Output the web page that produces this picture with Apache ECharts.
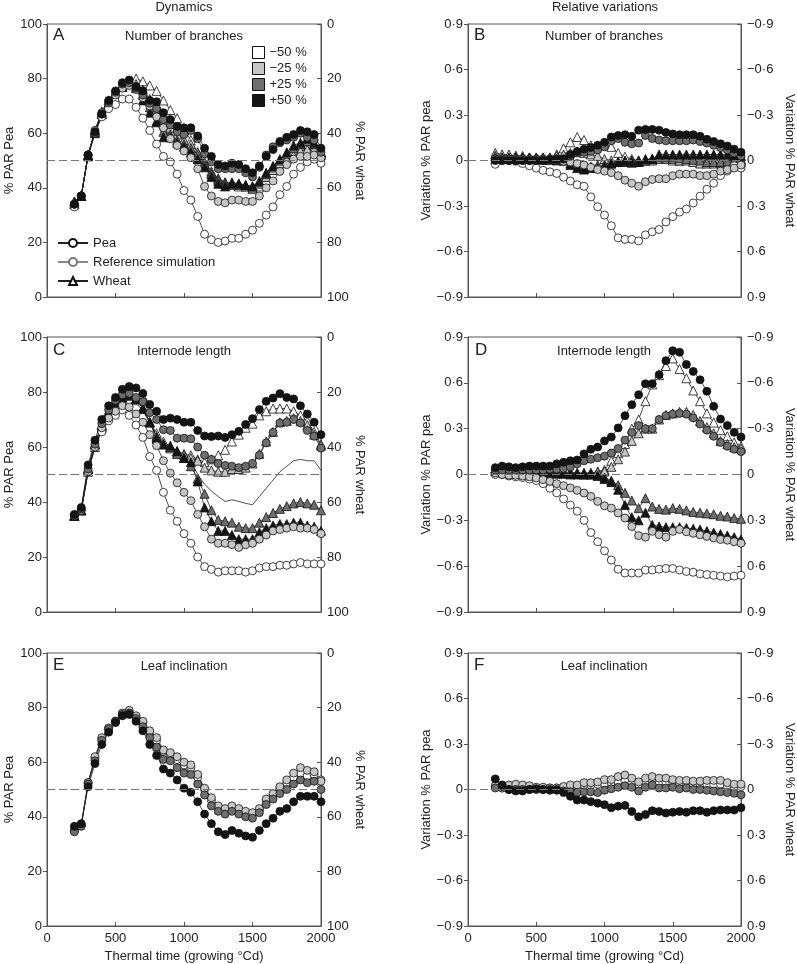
<!DOCTYPE html>
<html><head><meta charset="utf-8">
<script src="https://cdn.jsdelivr.net/npm/echarts@6/dist/echarts.min.js"></script>
<style>html,body{margin:0;padding:0;background:#fff}#c{width:797px;height:964px}</style>
</head><body><div id="c"></div>
<script>
// Thermal time (growing °Cd)
const T = [200,250,300,350,400,450,500,550,600,650,700,750,800,850,900,950,1000,1050,1100,1150,1200,1250,1300,1350,1400,1450,1500,1550,1600,1650,1700,1750,1800,1850,1900,1950,2000];

// Panel A – Number of branches, dynamics (% PAR pea scale)
const aPeaM50 = [33,37,52,60,66,69,70.5,72.5,72.5,69.5,65.5,61,56,51.5,49.5,45,39,35.5,29.5,23,21,20,20.5,21.5,21.5,23,24.5,27,30,33,37.5,40.5,45,47.5,49.5,50.5,49];
const aPeaM25 = [34,37,52,61,67.5,71,74,76.5,77.5,76,73,70,66,62,58,55.5,53.5,51,47,40.5,37,35,34.5,35.5,35.5,35,35,37,40,42.5,46,48.5,50.5,51.5,51.5,52,51];
const aPeaP25 = [34,37,52,60,67,71.5,75,78,78.5,76.5,74,71,69,65,63,60.5,59.5,61,58,52.5,49.5,47,47,47,47,45.5,44,47.5,52,55,56.5,57.5,58.5,60,58.5,57.5,53];
const aPeaP50 = [34,37,52,60.5,67,72,75.5,78.5,79.5,77,75.5,72,71.5,67.5,65,62.5,62,62,59,54.5,51.5,48.5,48,49,48.5,47,45.5,48,51.5,54,57,58.5,59.5,61,60.5,59.5,54.5];
const aWhM50 = [35,37,52,61,68,72,75,77,78.5,80,79,77.5,75.5,72,68.5,65.5,61,57.5,53,49.5,46,43.5,42,41,40.5,40.5,39.5,40.5,44,46.5,49.5,51,53.5,55.5,56,55,52.5];
const aWhM25 = [35,37,52,61,67.5,72,75,77.5,79,78,76,72.5,69,65,62,59.5,57.5,56,53,49,45.5,43,42,41.5,41,40.5,40,41.5,44,46.5,49,50.5,52,53.5,54,54,52];
const aWhP25 = [34.5,37,52,60.5,67,71,74.5,77,78.5,77,74,69.5,64.5,60.5,59.5,57.5,56,54.5,52,48.5,45,42.5,41.5,42,41.5,41,40.5,42,45,47.5,50,52.5,54.5,56,57,56,53];
const aWhP50 = [34,37,51.5,60,67,71,74.5,77,78.5,76.5,72,67.5,64,58.5,58.5,56.5,55,53,50.5,47.5,44,41.5,40.5,41.5,41.5,41,40.5,42.5,45.5,48,50.5,53,55.5,56.5,58,56.5,53];

// Panel B – Number of branches, relative variations
const bPeaM50 = [-0.025,0,0,-0.005,-0.02,-0.035,-0.05,-0.065,-0.075,-0.085,-0.11,-0.135,-0.16,-0.17,-0.24,-0.305,-0.36,-0.43,-0.51,-0.52,-0.52,-0.53,-0.49,-0.47,-0.455,-0.405,-0.37,-0.34,-0.32,-0.28,-0.235,-0.19,-0.15,-0.1,-0.07,-0.035,-0.05];
const bPeaM25 = [0.01,0.005,0,0,0,0,0,0,0,0,-0.005,-0.01,-0.02,-0.03,-0.045,-0.06,-0.07,-0.08,-0.1,-0.13,-0.15,-0.17,-0.14,-0.125,-0.12,-0.12,-0.1,-0.09,-0.09,-0.09,-0.1,-0.1,-0.09,-0.07,-0.06,-0.05,-0.03];
const bPeaP25 = [0.01,0.01,0.01,0.01,0.01,0.01,0.01,0.01,0.01,0.01,0.01,0.03,0.05,0.055,0.06,0.07,0.09,0.13,0.145,0.12,0.11,0.115,0.165,0.145,0.135,0.13,0.13,0.13,0.13,0.135,0.125,0.115,0.1,0.085,0.07,0.05,0.03];
const bPeaP50 = [0,0,0,0,0,0,0,0,0.005,0.005,0.01,0.04,0.06,0.075,0.085,0.1,0.12,0.155,0.165,0.17,0.16,0.2,0.205,0.205,0.2,0.185,0.175,0.17,0.17,0.17,0.16,0.14,0.125,0.11,0.095,0.075,0.055];
const bWhM50 = [0.04,0.03,0.03,0.03,0.02,0.02,0.02,0.02,0.02,0.04,0.08,0.12,0.155,0.135,0.1,0.1,0.11,0.09,0.05,0.025,0.01,0,0,0.01,0.02,0.02,0,0,0.01,0,0,0,0.01,0.01,0.01,0,0];
const bWhM25 = [0.05,0.04,0.04,0.03,0.03,0.02,0.02,0.02,0.02,0.03,0.04,0.05,0.06,0.05,0.04,0.03,0.01,0,-0.01,-0.01,-0.015,-0.01,0,0,0.01,0.01,0.01,0,0,-0.01,-0.02,-0.02,-0.02,-0.015,-0.015,-0.01,-0.01];
const bWhP25 = [0.03,0.02,0.02,0.02,0.02,0.02,0.01,0.01,0.01,0.01,0,-0.02,-0.03,-0.04,-0.04,-0.03,-0.03,-0.02,-0.01,0,0,0,0,0.01,0.02,0.02,0.02,0.015,0.01,0.005,0,-0.01,-0.01,-0.01,-0.005,0,0.01];
const bWhP50 = [0.01,0.01,0.01,0.01,0.01,0.01,0.01,0.005,0.005,0,0,-0.03,-0.05,-0.06,-0.05,-0.05,-0.04,-0.02,-0.01,-0.005,-0.01,-0.01,0.01,0.01,0.04,0.04,0.04,0.04,0.04,0.04,0.04,0.04,0.04,0.04,0.04,0.03,0.03];

// Panel C – Internode length, dynamics
const cPeaM50 = [35,37,51,60,65.5,69.5,71.5,73.5,71.5,68,63.5,56.5,51.5,43.5,37,33,28.5,25,20,16.5,15.5,14.5,15,15,15,14.5,15,16,16.5,16.5,17,17,17.5,18,17.5,17.5,17.5];
const cPeaM25 = [35,37,51,60,67,70.5,73,75,74.5,72,69,64.5,60.5,55,50.5,47,43.5,40.5,35.5,31,26.5,25,25,24.5,23.5,24.5,25,26.5,28,29.5,30,30.5,31,30.5,30.5,30,28.5];
const cPeaP25 = [35,37.5,52,61,68.5,73.5,77,79,79.5,78,76.5,72.5,70,66.3,66,63.2,63.2,63,60,57,55.5,54,53.3,53,52.5,53,54,57,61.5,65.3,68.7,69,70,68.7,66,63.9,59.6];
const cPeaP50 = [35.5,38,53.5,62.5,70,75,78,81,82,81.5,79.5,75.5,73,70,70.5,70,69,69,66,64,63.8,64,63.5,64.5,65.7,68.2,70.3,73.6,76.6,77.8,79.4,78,77.5,75,72,69,64.5];
const cWhM50 = [35,37,51,60,67,72.5,75.5,77,78.5,77,74,69,65,62,60,58.5,57.5,57,55.5,54.5,55.5,57,59,62,64.5,67,68.5,71.5,73,74,74,74,73,71.5,69.5,65.5,61];
const cWhM25 = [35,37,52,61,67.5,72.5,76,78,79,77.5,74,69,64,61,59.5,58,57,56,55,52.5,51.5,51,51,52,52,52.5,54,57.5,62,65.5,69,69.5,70.5,69.5,68,64.5,60.5];
const cWhP25 = [35,37,52,61,68,72.5,76,78,79,77.5,74,69,63.5,61,60,57.5,56,53,48.5,43,37,33.5,33,32.5,31,30.5,30.5,32.5,34.5,36,37.5,38.5,39.5,40,39.5,39,37];
const cWhP50 = [35,37,52,61,68,72,76,78,79,77.5,74,69,63,61,60.5,58.5,56,54.5,47.5,38,33,29.5,29.5,28,26.5,26.5,26.5,29,30.5,31.5,32,32,32.5,32.5,31.5,31,29.5];
const cRef = [35,37.5,52,61,67.5,72,75,77,77.5,76,73,69,64.5,61,59.5,58,57,55,50,46.5,44,42,40.2,40.8,40.2,39.5,39,42,45,48,51,53,55,55.5,55,55,51.5];

// Panel D – Internode length, relative variations
const dPeaM50 = [0,0,-0.01,-0.015,-0.02,-0.03,-0.04,-0.06,-0.09,-0.12,-0.16,-0.2,-0.24,-0.3,-0.38,-0.44,-0.5,-0.56,-0.62,-0.645,-0.645,-0.645,-0.625,-0.625,-0.62,-0.615,-0.615,-0.625,-0.635,-0.64,-0.65,-0.655,-0.66,-0.665,-0.67,-0.665,-0.66];
const dPeaM25 = [0.01,0,-0.005,-0.005,-0.01,-0.015,-0.023,-0.034,-0.045,-0.06,-0.073,-0.088,-0.104,-0.121,-0.143,-0.176,-0.205,-0.22,-0.252,-0.285,-0.34,-0.4,-0.41,-0.372,-0.394,-0.41,-0.372,-0.36,-0.375,-0.385,-0.395,-0.405,-0.415,-0.425,-0.43,-0.44,-0.45];
const dPeaP25 = [0.03,0.03,0.03,0.03,0.03,0.03,0.03,0.03,0.035,0.035,0.04,0.05,0.07,0.09,0.1,0.11,0.12,0.14,0.17,0.225,0.275,0.32,0.3,0.3,0.36,0.385,0.395,0.4,0.395,0.37,0.33,0.29,0.25,0.21,0.185,0.165,0.15];
const dPeaP50 = [0.045,0.055,0.05,0.045,0.05,0.055,0.055,0.055,0.055,0.07,0.08,0.09,0.095,0.135,0.165,0.18,0.22,0.245,0.305,0.385,0.457,0.522,0.594,0.594,0.653,0.745,0.81,0.8,0.72,0.675,0.62,0.545,0.446,0.363,0.32,0.276,0.245];
const dWhM50 = [0.04,0.03,0.02,0.02,0.02,0.02,0.015,0.015,0.015,0.01,0.01,0.01,0.01,0.01,0.01,0.02,0.03,0.09,0.14,0.2,0.3,0.36,0.48,0.59,0.65,0.71,0.76,0.69,0.63,0.55,0.48,0.4,0.34,0.29,0.25,0.21,0.185];
const dWhM25 = [0.04,0.035,0.03,0.03,0.03,0.025,0.025,0.02,0.02,0.02,0.015,0.015,0.01,0.01,0.01,0.015,0.02,0.05,0.1,0.15,0.22,0.27,0.3,0.3,0.36,0.39,0.4,0.41,0.41,0.39,0.35,0.31,0.27,0.22,0.2,0.18,0.17];
const dWhP25 = [0.03,0.03,0.025,0.025,0.02,0.02,0.02,0.015,0.015,0.01,0.01,0.005,0.005,0,0,-0.01,-0.02,-0.04,-0.07,-0.12,-0.17,-0.22,-0.155,-0.21,-0.225,-0.23,-0.22,-0.225,-0.235,-0.245,-0.25,-0.255,-0.26,-0.27,-0.275,-0.285,-0.29];
const dWhP50 = [0.02,0.02,0.02,0.015,0.015,0.01,0.01,0.01,0.01,0.005,0.005,0,0,0,0,-0.005,-0.03,-0.05,-0.1,-0.2,-0.28,-0.3,-0.25,-0.33,-0.34,-0.345,-0.345,-0.345,-0.35,-0.355,-0.36,-0.37,-0.38,-0.39,-0.4,-0.41,-0.425];

// Panel E – Leaf inclination, dynamics
const ePeaM50 = [35,37,52.5,61.5,68.5,72.5,75,77.5,78.5,76.5,74.5,71,68,64,63,61,59,58,54.5,50,46,43.5,42.5,43.5,42.5,41.5,41,42.5,46,48,50.5,52.5,54.5,56,55,55.5,53.5];
const ePeaM25 = [35,37,52.5,62,69,72.5,75,78,79,77,75,71.5,69,64.5,63.5,62,60,59,55.5,50.5,47,44,43,44,43,42,41.5,43,46.5,48.5,51,53.5,56,58,57,56.5,53];
const ePeaP25 = [34.5,36.5,52,60.5,68,72,75,77.5,78,76,73,69,65.5,61,60.5,58,56,55.5,52,48,44,42,41,42,41,40,39.5,41.5,44.5,46.5,48.5,50,52,53.5,52.5,53,50];
const ePeaP50 = [36.5,37.5,51,59.5,66.5,71,74.5,77,77.5,75,71.5,66.5,62.5,57.5,56,53.5,50.5,49,45.5,41,37.5,34.5,33.5,35,34,33,32.5,35,37.5,39.5,42,43,45.5,47.5,47.5,47.5,45.5];

// Panel F – Leaf inclination, relative variations
const fPeaM50 = [0.02,0.01,0.02,0.02,0.02,0.02,0.01,0.01,0.01,0.01,0.01,0.015,0.02,0.03,0.03,0.035,0.04,0.045,0.05,0.055,0.045,0.03,0.05,0.055,0.05,0.05,0.045,0.04,0.04,0.035,0.035,0.035,0.035,0.035,0.025,0.02,0.02];
const fPeaM25 = [0.025,0.01,0.03,0.035,0.03,0.025,0.015,0.015,0.01,0.01,0.02,0.03,0.03,0.045,0.045,0.05,0.065,0.065,0.085,0.095,0.075,0.05,0.075,0.085,0.075,0.075,0.065,0.06,0.06,0.055,0.055,0.06,0.06,0.06,0.045,0.035,0.035];
const fPeaP25 = [0.01,0.02,0,0,0,0,0,0,0,0,-0.01,-0.015,-0.02,-0.015,-0.015,-0.02,-0.005,0.005,0.015,0.025,0.015,-0.01,0.015,0.03,0.01,0.01,0.015,0.005,0.01,0,0,-0.005,-0.01,-0.015,-0.02,-0.025,-0.035];
const fPeaP50 = [0.07,0.03,0,-0.01,-0.01,0,0.005,0,-0.005,-0.005,-0.02,-0.045,-0.07,-0.07,-0.08,-0.09,-0.1,-0.12,-0.11,-0.105,-0.145,-0.18,-0.165,-0.14,-0.145,-0.155,-0.15,-0.145,-0.15,-0.14,-0.14,-0.15,-0.14,-0.135,-0.135,-0.135,-0.12];

// Labels
const levelLabels = ['−50 %','−25 %','+25 %','+50 %'];
const panelLetters = ['A','B','C','D','E','F'];
const panelTitles = ['Number of branches','Number of branches','Internode length','Internode length','Leaf inclination','Leaf inclination'];
const columnTitles = ['Dynamics','Relative variations'];

const FONT = '"Liberation Sans", Arial, Helvetica, sans-serif';
const TXT = '#222';
const AX = '#555';
const FILLS = ['#ffffff','#c6c6c6','#6e6e6e','#141414'];

const boxes = [
  [47,24,274,273],[468,24,273,273],
  [47,337,274,275],[468,337,273,275],
  [47,653,274,273],[468,653,273,273]
];
const isRel = [false,true,false,true,false,true];

function relFmt(v){
  const r = Math.round(v*10)/10;
  if (Math.abs(r) < 1e-9) return '0';
  return (r<0?'−':'') + Math.abs(r).toFixed(1).replace('.','·');
}

const grid = boxes.map(b=>({left:b[0],top:b[1],width:b[2],height:b[3],show:true,borderColor:AX,borderWidth:1,backgroundColor:'transparent',containLabel:false,outerBoundsMode:'none'}));

const xAxis = boxes.map((b,i)=>({
  type:'value', gridIndex:i, min:0, max:2000, interval:500,
  axisLine:{show:true,onZero:false,lineStyle:{color:AX,width:1}},
  axisTick:{show:true,inside:true,length:4,lineStyle:{color:AX}},
  axisLabel:{show:i>=4,margin:6,fontSize:13,fontFamily:FONT,color:TXT,showMinLabel:true,showMaxLabel:true,
    formatter:(v=>String(v))},
  splitLine:{show:false},
  name: i>=4 ? 'Thermal time (growing °Cd)' : '',
  nameLocation:'middle', nameGap:24,
  nameTextStyle:{fontSize:13,fontFamily:FONT,color:TXT}
}));

const yAxis = [];
boxes.forEach((b,i)=>{
  const rel = isRel[i];
  const base = {type:'value',gridIndex:i,min:rel?-0.9:0,max:rel?0.9:100,interval:rel?0.3:20,
    splitLine:{show:false},axisLine:{show:true,onZero:false,lineStyle:{color:AX,width:1}},
    nameLocation:'middle',nameTextStyle:{fontSize:13,fontFamily:FONT,color:TXT}};
  const lab = {fontSize:13,fontFamily:FONT,color:TXT,showMinLabel:true,showMaxLabel:true,
    formatter: rel ? relFmt : (v=>String(v))};
  yAxis.push(Object.assign({},base,{position:'left',
    axisTick:{show:true,inside:false,length:4,lineStyle:{color:AX}},
    axisLabel:Object.assign({margin:5},lab),
    name: rel?'Variation % PAR pea':'% PAR Pea', nameGap: rel?35:28}));
  yAxis.push(Object.assign({},base,{position:'right',inverse:true,
    axisTick:{show:true,inside:true,length:4,lineStyle:{color:AX}},
    axisLabel:Object.assign({margin:6},lab),
    name: rel?'Variation % PAR wheat':'% PAR wheat', nameGap: rel?42:30, nameRotate:-90}));
});

function mk(name, gi, vals, fill, sym){
  return {type:'line',name,xAxisIndex:gi,yAxisIndex:gi*2,
    data:T.map((t,k)=>[t,vals[k]]),
    symbol:sym,symbolSize:sym==='triangle'?9:8,showAllSymbol:true,
    lineStyle:{color:'#222',width:0.8},
    itemStyle:{color:fill,borderColor:'#111',borderWidth:0.8},
    emphasis:{disabled:true},animation:false,z:3};
}

const series = [];
// dashed reference lines
boxes.forEach((b,i)=>{
  series.push({type:'line',name:'ref'+i,xAxisIndex:i,yAxisIndex:i*2,data:[],z:1,animation:false,
    markLine:{silent:true,symbol:['none','none'],label:{show:false},animation:false,
      lineStyle:{type:[8,4],color:'#777',width:1},
      data:[{yAxis: isRel[i]?0:50}]}});
});

const panels = [
  {gi:0, wheat:[aWhM50,aWhM25,aWhP25,aWhP50], pea:[aPeaM50,aPeaM25,aPeaP25,aPeaP50]},
  {gi:1, wheat:[bWhM50,bWhM25,bWhP25,bWhP50], pea:[bPeaM50,bPeaM25,bPeaP25,bPeaP50]},
  {gi:2, wheat:[cWhM50,cWhM25,cWhP25,cWhP50], pea:[cPeaM50,cPeaM25,cPeaP25,cPeaP50]},
  {gi:3, wheat:[dWhM50,dWhM25,dWhP25,dWhP50], pea:[dPeaM50,dPeaM25,dPeaP25,dPeaP50]},
  {gi:4, wheat:null, pea:[ePeaM50,ePeaM25,ePeaP25,ePeaP50]},
  {gi:5, wheat:null, pea:[fPeaM50,fPeaM25,fPeaP25,fPeaP50]}
];
panels.forEach(p=>{
  if (p.gi===2) {
    series.push({type:'line',name:'C reference',xAxisIndex:2,yAxisIndex:4,data:T.map((t,k)=>[t,cRef[k]]),
      symbol:'none',lineStyle:{color:'#222',width:0.8},z:2,animation:false});
  }
  if (p.wheat) p.wheat.forEach((v,k)=>series.push(mk(panelLetters[p.gi]+' wheat '+levelLabels[k],p.gi,v,FILLS[k],'triangle')));
  p.pea.forEach((v,k)=>series.push(mk(p.gi===0?levelLabels[k]:panelLetters[p.gi]+' pea '+levelLabels[k],p.gi,v,FILLS[k],'circle')));
});
// legend-only series
series.push({type:'line',name:'Pea',xAxisIndex:0,yAxisIndex:0,data:[],symbol:'circle',symbolSize:8,
  lineStyle:{color:'#222',width:1},itemStyle:{color:'#fff',borderColor:'#111',borderWidth:0.8}});
series.push({type:'line',name:'Reference simulation',xAxisIndex:0,yAxisIndex:0,data:[],symbol:'circle',symbolSize:8,
  lineStyle:{color:'#888',width:1.5},itemStyle:{color:'#fff',borderColor:'#777',borderWidth:0.8}});
series.push({type:'line',name:'Wheat',xAxisIndex:0,yAxisIndex:0,data:[],symbol:'triangle',symbolSize:8,
  lineStyle:{color:'#222',width:1},itemStyle:{color:'#fff',borderColor:'#111',borderWidth:0.8}});

const titleStyle = (size)=>({fontSize:size,fontWeight:'normal',fontFamily:FONT,color:TXT});
const title = [
  {text:columnTitles[0],left:184,top:1,textAlign:'center',padding:0,textStyle:titleStyle(13)},
  {text:columnTitles[1],left:605,top:1,textAlign:'center',padding:0,textStyle:titleStyle(13)}
];
const letterPos = [[53,27],[474,27],[53,342],[475,342],[53,657],[474,657]];
const subPos = [[184,30],[604,30],[184,345],[604,345],[184,660],[604,660]];
panelLetters.forEach((L,i)=>{
  title.push({text:L,left:letterPos[i][0],top:letterPos[i][1],padding:0,textStyle:titleStyle(17)});
  title.push({text:panelTitles[i],left:subPos[i][0],top:subPos[i][1],textAlign:'center',padding:0,textStyle:titleStyle(13)});
});

const legend = [
  {data:levelLabels.map(n=>({name:n,icon:'rect'})),orient:'vertical',left:252,top:46,
   itemWidth:12,itemHeight:12,itemGap:3,selectedMode:false,padding:0,
   itemStyle:{borderColor:'#111',borderWidth:1},
   textStyle:{fontSize:13,fontFamily:FONT,color:TXT}},
  {data:['Pea','Reference simulation','Wheat'],orient:'vertical',left:57,top:236,
   itemWidth:30,itemHeight:10,itemGap:5,selectedMode:false,padding:0,
   textStyle:{fontSize:13,fontFamily:FONT,color:TXT,lineHeight:14}}
];

const chart = echarts.init(document.getElementById('c'),null,{renderer:'canvas'});
chart.setOption({animation:false,backgroundColor:'#fff',textStyle:{fontFamily:FONT},
  title,legend,grid,xAxis,yAxis,series});
</script></body></html>
